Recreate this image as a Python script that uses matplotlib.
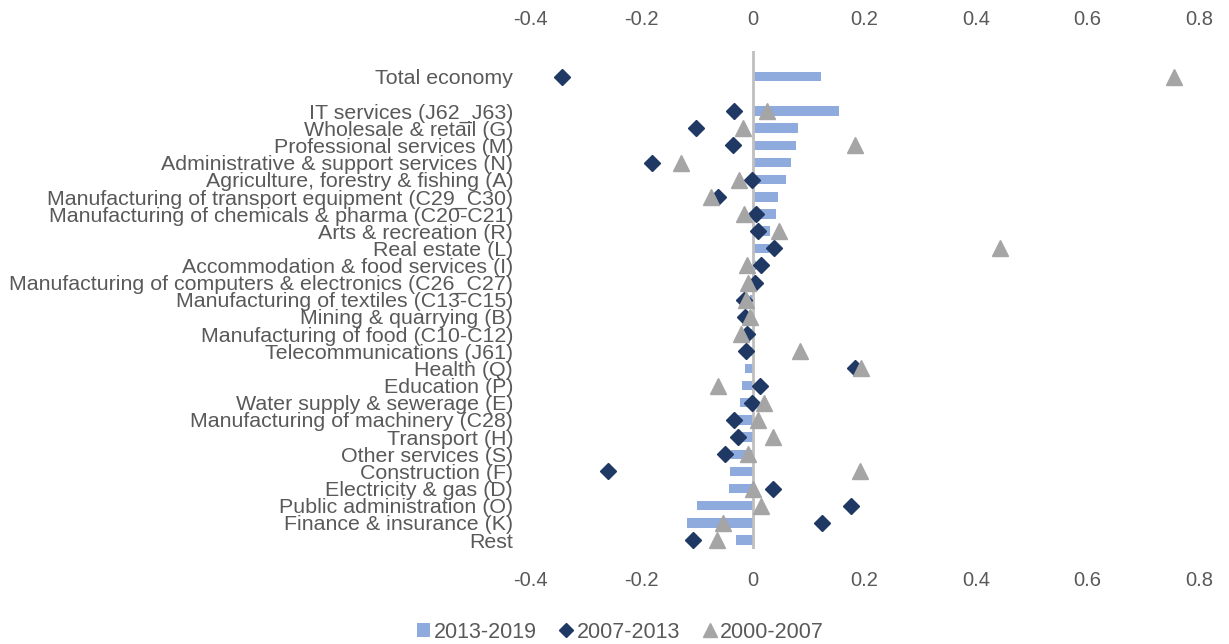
import numpy as np
import matplotlib.pyplot as plt
from matplotlib.lines import Line2D
import matplotlib.patches as mpatches

plt.rcParams['font.family'] = ['Liberation Sans', 'DejaVu Sans']

# ---------------------------------------------------------------------------------------------------------------------
# data (top to bottom)
sectors = ['Total economy',
           'IT services (J62_J63)', 'Wholesale & retail (G)', 'Professional services (M)',
           'Administrative & support services (N)', 'Agriculture, forestry & fishing (A)',
           'Manufacturing of transport equipment (C29_C30)', 'Manufacturing of chemicals & pharma (C20-C21)',
           'Arts & recreation (R)', 'Real estate (L)', 'Accommodation & food services (I)',
           'Manufacturing of computers & electronics (C26_C27)', 'Manufacturing of textiles (C13-C15)',
           'Mining & quarrying (B)', 'Manufacturing of food (C10-C12)', 'Telecommunications (J61)',
           'Health (Q)', 'Education (P)', 'Water supply & sewerage (E)', 'Manufacturing of machinery (C28)',
           'Transport (H)', 'Other services (S)', 'Construction (F)', 'Electricity & gas (D)',
           'Public administration (O)', 'Finance & insurance (K)', 'Rest']

p2013_2019 = [0.122, 0.154, 0.081, 0.077, 0.068, 0.059, 0.045, 0.041, 0.030, 0.028, 0.006,
              0.003, -0.006, -0.004, -0.008, -0.003, -0.015, -0.020, -0.024, -0.028, -0.019,
              -0.040, -0.041, -0.043, -0.100, -0.119, -0.031]
p2007_2013 = [-0.343, -0.034, -0.102, -0.036, -0.181, -0.002, -0.063, 0.005, 0.009, 0.038, 0.015,
              0.004, -0.016, -0.014, -0.010, -0.013, 0.183, 0.013, -0.002, -0.034, -0.027,
              -0.050, -0.260, 0.035, 0.176, 0.124, -0.108]
p2000_2007 = [0.756, 0.025, -0.018, 0.183, -0.129, -0.025, -0.076, -0.016, 0.047, 0.443, -0.011,
              -0.009, -0.013, -0.006, -0.022, 0.084, 0.194, -0.063, 0.019, 0.009, 0.035,
              -0.009, 0.192, 0.000, 0.015, -0.054, -0.064]

series_labels = ['2013-2019', '2007-2013', '2000-2007']
x_ticks = [-0.4, -0.2, 0, 0.2, 0.4, 0.6, 0.8]
x_tick_labels = ['-0.4', '-0.2', '0', '0.2', '0.4', '0.6', '0.8']

# colours
bar_col = '#8FAADC'
dia_col = '#1F3864'
tri_col = '#A5A5A5'
txt_col = '#595959'

# ---------------------------------------------------------------------------------------------------------------------
# one empty row between the total and the sectors
ypos = np.array([0] + list(range(2, len(sectors) + 1)))

fig = plt.figure(figsize=(12.29, 6.44), dpi=100)
ax = fig.add_axes([530 / 1229, 1 - 548.6 / 644, (1199 - 530) / 1229, (548.6 - 51) / 644])

ax.barh(ypos, p2013_2019, height=0.55, color=bar_col, zorder=2)
ax.axvline(0, color='#BFBFBF', lw=2, zorder=3)
ax.plot(p2007_2013, ypos, ls='none', marker='D', ms=7.8, color=dia_col, zorder=4)
ax.plot(p2000_2007, ypos, ls='none', marker='^', ms=11.5, color=tri_col, zorder=5)

ax.set_xlim(-0.4, 0.8)
ax.set_ylim(len(sectors) + 0.5, -1.5)
ax.set_xticks(x_ticks)
ax.set_xticklabels(x_tick_labels)
ax.set_yticks(ypos)
ax.set_yticklabels(sectors)
ax.tick_params(axis='x', top=False, bottom=False, labeltop=True, labelbottom=True,
               labelsize=14.5, labelcolor=txt_col, pad=12.3)
ax.tick_params(axis='y', left=False, labelsize=15.4, labelcolor=txt_col, pad=8.6)
for s in ax.spines.values():
    s.set_visible(False)

handles = [mpatches.Rectangle((0, 0), 1, 1, facecolor=bar_col),
           Line2D([], [], ls='none', marker='D', ms=7, color=dia_col),
           Line2D([], [], ls='none', marker='^', ms=10, color=tri_col)]
leg = fig.legend(handles, series_labels, loc='center', bbox_to_anchor=(0.505, 12 / 644),
                 ncol=3, frameon=False, fontsize=15.5, handlelength=0.6, handleheight=0.6,
                 handletextpad=0.2, columnspacing=1.05)
for t in leg.get_texts():
    t.set_color(txt_col)

fig.savefig('out.png', dpi=100)
